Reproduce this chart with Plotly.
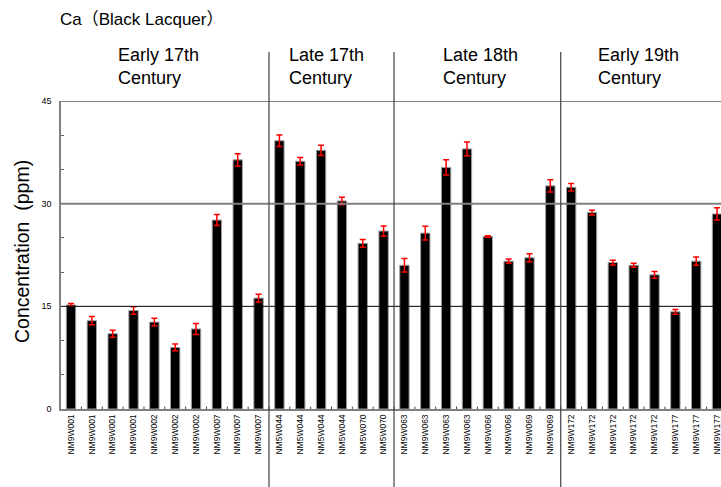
import plotly.graph_objects as go

# Sample labels, grouped by period
labels = (["NM9W001"] * 4 + ["NM9W002"] * 3 + ["NM9W007"] * 3
          + ["NM5W044"] * 4 + ["NM5W070"] * 2
          + ["NM9W063"] * 4 + ["NM9W066"] * 2 + ["NM9W069"] * 2
          + ["NM9W172"] * 5 + ["NM9W177"] * 3)

# Ca concentration (ppm) and its error
values = [15.2, 12.9, 11.0, 14.4, 12.7, 9.0, 11.7, 27.6, 36.4, 16.2,
          39.2, 36.2, 37.8, 30.4, 24.2, 26.0,
          21.0, 25.7, 35.3, 38.0, 25.2, 21.6, 22.1, 32.6,
          32.4, 28.7, 21.4, 21.0, 19.6, 14.2, 21.6, 28.5]
errors = [0.2, 0.6, 0.5, 0.55, 0.55, 0.5, 0.8, 0.8, 0.9, 0.55,
          0.85, 0.55, 0.75, 0.55, 0.55, 0.75,
          1.0, 1.0, 1.1, 1.0, 0.1, 0.3, 0.6, 0.9,
          0.55, 0.35, 0.35, 0.3, 0.5, 0.35, 0.6, 0.9]

# Period headers: text and number of samples in each
periods = ["Early 17th<br>Century", "Late 17th<br>Century",
           "Late 18th<br>Century", "Early 19th<br>Century"]
period_sizes = [10, 6, 8, 8]

y_ticks = [0, 15, 30, 45]

x = list(range(len(values)))

fig = go.Figure()
fig.add_trace(go.Bar(
    x=x, y=values, width=0.45,
    marker=dict(color="black", line=dict(color="#a0a0a0", width=1)),
    error_y=dict(type="data", array=errors, color="#ff0000",
                 thickness=1.5, width=3),
    showlegend=False,
))

W, H = 721, 487
fig.update_layout(
    width=W, height=H,
    margin=dict(l=61, r=0, t=101, b=78),
    plot_bgcolor="white", paper_bgcolor="white",
    font=dict(family="Liberation Sans, Arial, sans-serif", color="black"),
    bargap=0.5,
)

fig.update_xaxes(
    range=[-0.48, 31.19],
    tickmode="array", tickvals=x, ticktext=labels,
    tickangle=-90, tickfont=dict(size=8.5),
    ticklabeloverflow="allow",
    showgrid=False, zeroline=False,
    showline=True, linecolor="#808080", linewidth=2,
    ticks="", ticklen=0,
)
fig.update_yaxes(
    range=[0, 45],
    tickmode="array", tickvals=y_ticks,
    tickfont=dict(size=9),
    showgrid=False, zeroline=False,
    showline=True, linecolor="#808080", linewidth=1.5,
    ticks="", ticklabelstandoff=6,
    minor=dict(tickvals=[5, 10, 20, 25, 35, 40], ticks="inside",
               ticklen=3, tickcolor="#606060", showgrid=False),
)

# Horizontal reference lines
for val, col, w in [(15, "black", 1), (30, "#808080", 2), (45, "black", 1)]:
    fig.add_shape(type="line", xref="paper", yref="y", x0=0, x1=1,
                  y0=val, y1=val, line=dict(color=col, width=w))

# Short ticks between bars on the category axis
for b in range(len(values) - 1):
    fig.add_shape(type="line", xref="x", yref="y", x0=b + 0.5, x1=b + 0.5,
                  y0=0, y1=0.35, line=dict(color="#404040", width=1))

# Dividers between periods, running from the headers to the bottom edge
start = 0
bounds = []
for n in period_sizes[:-1]:
    start += n
    bounds.append(start - 0.5)
for bx in bounds:
    fig.add_shape(type="line", xref="x", yref="paper", x0=bx, x1=bx,
                  y0=-78 / 308, y1=(409 - 52) / 308,
                  line=dict(color="#404040", width=1.2))

# Period header text, left aligned at each group
header_left_px = [116, 287, 441, 596]
for txt, px in zip(periods, header_left_px):
    fig.add_annotation(
        text=txt, xref="paper", yref="paper",
        x=(px - 61) / (W - 61), y=(409 - 66) / 308,
        xanchor="left", yanchor="middle", align="left",
        showarrow=False, font=dict(size=18, color="black"),
    )

# Chart title
fig.add_annotation(
    text="Ca（Black Lacquer）", xref="paper", yref="paper",
    x=(58 - 61) / (W - 61), y=(409 - 19) / 308,
    xanchor="left", yanchor="middle", showarrow=False,
    font=dict(size=17, color="black",
              family="Liberation Sans, Noto Sans CJK JP, sans-serif"),
)

# Y axis title
fig.add_annotation(
    text="Concentration  (ppm)", xref="paper", yref="paper",
    x=(22 - 61) / (W - 61), y=(409 - 252) / 308,
    xanchor="center", yanchor="middle", textangle=-90, showarrow=False,
    font=dict(size=19.5, color="black"),
)

fig.write_html("out.html")
